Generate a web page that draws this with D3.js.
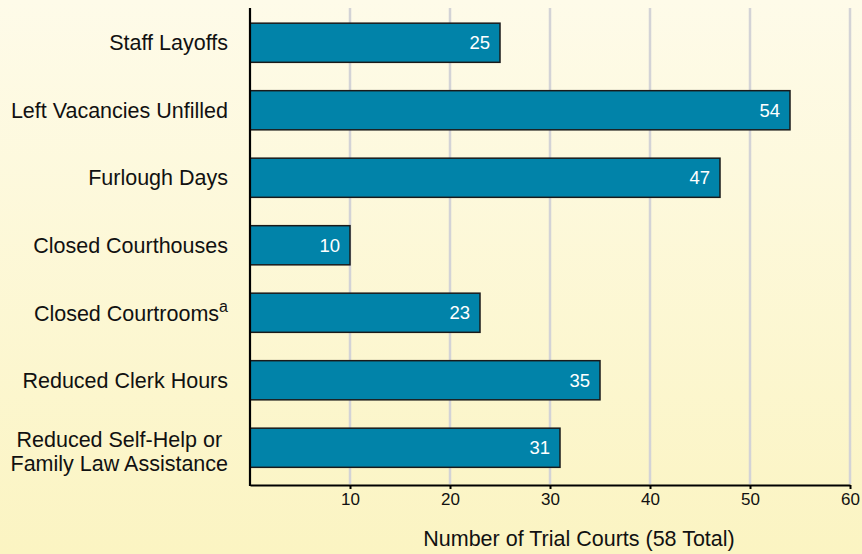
<!DOCTYPE html>
<html><head><meta charset="utf-8">
<script src="https://cdn.jsdelivr.net/npm/d3@7"></script>
<style>html,body{margin:0;padding:0;}svg{display:block;}</style>
</head><body>
<script>
const categories = [["Staff Layoffs"],["Left Vacancies Unfilled"],["Furlough Days"],["Closed Courthouses"],["Closed Courtrooms","a"],["Reduced Clerk Hours"],["Reduced Self-Help or","Family Law Assistance"]];
const values = [25,54,47,10,23,35,31];
const ticks = [10,20,30,40,50,60];
const axisTitle = "Number of Trial Courts (58 Total)";

const W=862,H=554;
const svg=d3.select("body").append("svg").attr("width",W).attr("height",H);
const defs=svg.append("defs");
const g=defs.append("linearGradient").attr("id","bg").attr("x1",0).attr("y1",0).attr("x2",0).attr("y2",1);
g.append("stop").attr("offset","0%").attr("stop-color","#fefbe9");
g.append("stop").attr("offset","100%").attr("stop-color","#fbf4c2");
svg.append("rect").attr("width",W).attr("height",H).attr("fill","url(#bg)");

const x=d3.scaleLinear().domain([0,60]).range([250,850]);
const idx=d3.range(values.length);
const y=d3.scaleBand().domain(idx).range([9,481.5]).paddingInner(0.42).paddingOuter(0.21);
const font="'Liberation Sans', Arial, Helvetica, sans-serif";

// gridlines
svg.append("g").selectAll("line").data(ticks).join("line")
 .attr("x1",d=>x(d)).attr("x2",d=>x(d)).attr("y1",8).attr("y2",484)
 .attr("stroke","#d3d3d6").attr("stroke-width",2.5);

// bars
svg.append("g").selectAll("rect").data(idx).join("rect")
 .attr("x",x(0)).attr("y",i=>y(i)).attr("width",i=>x(values[i])-x(0)).attr("height",y.bandwidth())
 .attr("fill","#0183a9").attr("stroke","#1a1a1a").attr("stroke-width",1.5);

svg.append("g").selectAll("text").data(idx).join("text")
 .attr("x",i=>x(values[i])-10).attr("y",i=>y(i)+y.bandwidth()/2+6.5)
 .attr("text-anchor","end").attr("fill","#ffffff").attr("font-family",font).attr("font-size",18.5)
 .text(i=>values[i]);

// x axis
const xa=svg.append("g").attr("transform","translate(0,485)")
 .call(d3.axisBottom(x).tickValues(ticks).tickSize(4).tickSizeOuter(0).tickPadding(4));
xa.select(".domain").attr("stroke","#000").attr("stroke-width",2.2);
xa.selectAll(".tick line").attr("stroke","#000").attr("stroke-width",2);
xa.selectAll(".tick text").attr("font-family",font).attr("font-size",17).attr("fill","#111");

// y axis line
svg.append("line").attr("x1",x(0)).attr("x2",x(0)).attr("y1",8).attr("y2",486)
 .attr("stroke","#000").attr("stroke-width",2.2);

// category labels
const FS=21.5;
idx.forEach(i=>{
  const c=y(i)+y.bandwidth()/2;
  const lines=categories[i];
  const t=svg.append("text").attr("font-family",font).attr("font-size",FS).attr("fill","#111").attr("text-anchor","end");
  if(i===4){
    t.attr("x",228).attr("y",c+8);
    t.append("tspan").text(lines[0]);
    t.append("tspan").attr("font-size",16).attr("dy",-9).text(lines[1]);
  } else if(lines.length===2){
    t.attr("x",228).attr("y",c+23).text(lines[1]);
    const w=t.node().getComputedTextLength();
    svg.append("text").attr("font-family",font).attr("font-size",FS).attr("fill","#111")
      .attr("text-anchor","middle").attr("x",228-w/2).attr("y",c-1).text(lines[0]);
  } else {
    t.attr("x",228).attr("y",c+7.5).text(lines[0]);
  }
});

svg.append("text").attr("x",579).attr("y",546).attr("text-anchor","middle")
 .attr("font-family",font).attr("font-size",21.5).attr("fill","#111").text(axisTitle);
</script>
</body></html>
